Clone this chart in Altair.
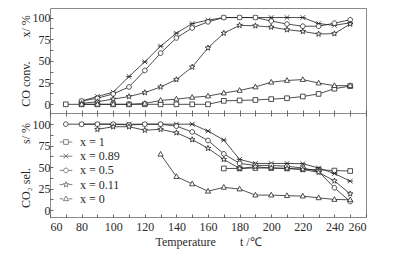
import math
import altair as alt
import pandas as pd

# ---------------- data ----------------
series = ["x = 1", "x = 0.89", "x = 0.5", "x = 0.11", "x = 0"]

# CO conversion, %
conv_T_x1 = [70, 80, 90, 100, 110, 120, 130, 140, 150, 160, 170, 180, 190, 200, 210, 220, 230, 240, 250]
conv_x1 = [0, 0, 0, 0, 0, 0, 0, 0, 0, 0, 4, 4.5, 5, 6, 7, 9, 12, 18, 21]
conv_T_x089 = [80, 90, 100, 110, 120, 130, 140, 150, 160, 170, 180, 190, 200, 210, 220, 230, 240, 250]
conv_x089 = [3.8, 9, 14, 32, 49, 67, 82, 93, 97, 100, 100, 100, 100, 100, 100, 93, 91, 94]
conv_T_x05 = [80, 90, 100, 110, 120, 130, 140, 150, 160, 170, 180, 190, 200, 210, 220, 230, 240, 250]
conv_x05 = [3.8, 7, 12, 20, 39, 59, 76.5, 88, 95, 100, 100, 100, 96, 92.5, 90, 90, 93.5, 97.5]
conv_T_x011 = [80, 90, 100, 110, 120, 130, 140, 150, 160, 170, 180, 190, 200, 210, 220, 230, 240, 250]
conv_x011 = [1, 3, 6, 9, 13.5, 20, 28.5, 43, 65, 82, 91, 90.5, 89, 86, 84, 81, 81.5, 92.5]
conv_T_x0 = [80, 90, 100, 110, 120, 130, 140, 150, 160, 170, 180, 190, 200, 210, 220, 230, 240, 250]
conv_x0 = [0, 0, 0, 0, 1, 4.5, 6, 8, 9.5, 13, 16, 20, 25.5, 27.5, 28.5, 24.5, 21.5, 21.5]

# CO2 selectivity, %
sel_T_x1 = [170, 180, 190, 200, 210, 220, 230, 240, 250]
sel_x1 = [48.5, 48.5, 49, 49, 48.5, 47.5, 47, 46, 45.5]
sel_T_x089 = [80, 90, 100, 110, 120, 130, 140, 150, 160, 170, 180, 190, 200, 210, 220, 230, 240, 250]
sel_x089 = [100, 100, 100, 100, 100, 100, 100, 100, 92, 81.5, 59, 54.3, 54.3, 54.3, 54, 49, 42.6, 33.7]
sel_T_x05 = [70, 80, 90, 100, 110, 120, 130, 140, 150, 160, 170, 180, 190, 200, 210, 220, 230, 240, 250]
sel_x05 = [100, 100, 100, 100, 99, 100, 100, 97.7, 91, 81, 65.5, 54.3, 52, 52, 51, 49, 45, 26, 10]
sel_T_x011 = [90, 100, 110, 120, 130, 140, 150, 160, 170, 180, 190, 200, 210, 220, 230, 240, 250]
sel_x011 = [94, 97, 97, 93, 94, 90, 82, 72, 59, 48.5, 50.4, 49, 48.5, 47.3, 44, 34, 19]
sel_T_x0 = [130, 140, 150, 160, 170, 180, 190, 200, 210, 220, 230, 240, 250]
sel_x0 = [65, 39, 30.5, 22, 26.5, 24.5, 17.5, 17.5, 16.8, 16.3, 14.3, 12.4, 12]

x_ticks = list(range(60, 261, 10))
y_ticks = [0, 12.5, 25, 37.5, 50, 62.5, 75, 87.5, 100]


def long(pairs):
    rows = []
    for name, ts, vs in pairs:
        for t, v in zip(ts, vs):
            rows.append({"T": t, "v": v, "s": name})
    return pd.DataFrame(rows)


conv_df = long([
    ("x = 1", conv_T_x1, conv_x1),
    ("x = 0.89", conv_T_x089, conv_x089),
    ("x = 0.5", conv_T_x05, conv_x05),
    ("x = 0.11", conv_T_x011, conv_x011),
    ("x = 0", conv_T_x0, conv_x0),
])
sel_df = long([
    ("x = 1", sel_T_x1, sel_x1),
    ("x = 0.89", sel_T_x089, sel_x089),
    ("x = 0.5", sel_T_x05, sel_x05),
    ("x = 0.11", sel_T_x011, sel_x011),
    ("x = 0", sel_T_x0, sel_x0),
])

# ---------------- styling ----------------
FONT = "Liberation Serif"
INK = "#222"
TXT = "#2a2a2a"
FRAME = "#8a8a8a"


def star_path(ro=1.25, ri=0.5):
    pts = []
    for i in range(10):
        a = math.radians(-90 + 36 * i)
        r = ro if i % 2 == 0 else ri
        pts.append(f"{r*math.cos(a):.3f},{r*math.sin(a):.3f}")
    return "M" + "L".join(pts) + "Z"


SQUARE = "M-1,-1H1V1H-1Z"
ASTER = "M-1,-1L1,1M-1,1L1,-1M-1.2,0H1.2"
CIRCLE = "M-1,0A1,1 0 1,0 1,0A1,1 0 1,0 -1,0Z"
STAR = star_path()
TRI = "M0,-1.2L1.1,0.8L-1.1,0.8Z"
shape_range = [SQUARE, ASTER, CIRCLE, STAR, TRI]

STUB = "M-2.7,0H-1.15M1.15,0H2.7"
legend_paths = [p + STUB for p in shape_range]

W = 316
H_TOP = 105
H_BOT = 104

xscale = alt.Scale(domain=[60, 260], nice=False, zero=False)
lab20 = "datum.value % 20 === 0 ? datum.label : ''"
lab25 = "datum.value % 25 === 0 ? datum.label : ''"

common_axis = dict(domain=False, tickColor="#444", tickWidth=0.8, tickSize=3, offset=-3,
                   labelFont=FONT, labelFontSize=12, labelColor=TXT,
                   titleFont=FONT, titleFontSize=12, titleFontWeight="normal", titleColor=TXT,
                   grid=False)
view = alt.ViewBackground(stroke=FRAME, strokeWidth=1, fill="white")


def panel(df, ydomain, height, ytitle, bottom_labels, top_ticks, with_legend):
    yscale = alt.Scale(domain=ydomain, nice=False, zero=False)
    yaxis = alt.Axis(orient="left", values=y_ticks, labelExpr=lab25, labelPadding=0,
                     title=ytitle, titlePadding=0, **common_axis)
    if bottom_labels:
        xaxis = alt.Axis(orient="bottom", values=x_ticks, labelExpr=lab20, labelPadding=4,
                         title="Temperature\u2003\u2003t /\u2103", titlePadding=4, **common_axis)
    else:
        xaxis = alt.Axis(orient="bottom", values=x_ticks, labels=False, title=None, **common_axis)

    lines = alt.Chart(df).mark_line(color=INK, strokeWidth=0.8).encode(
        x=alt.X("T:Q", scale=xscale, axis=xaxis),
        y=alt.Y("v:Q", scale=yscale, axis=yaxis),
        detail="s:N",
    )
    if top_ticks:
        px = alt.X("T:Q", scale=xscale,
                   axis=alt.Axis(orient="top", values=x_ticks, labels=False, title=None, **common_axis))
    else:
        px = alt.X("T:Q", scale=xscale, axis=None)
    points = alt.Chart(df).mark_point(
        filled=True, fill="white", stroke=INK, strokeWidth=0.8, size=22, opacity=1
    ).encode(
        x=px,
        y=alt.Y("v:Q", scale=yscale, axis=yaxis),
        shape=alt.Shape("s:N", scale=alt.Scale(domain=series, range=shape_range), legend=None),
    )
    layers = [lines, points]
    if with_legend:
        legend = alt.Legend(
            orient="none", legendX=10, legendY=23, title=None, padding=0,
            symbolSize=22, symbolStrokeWidth=0.8, symbolStrokeColor=INK,
            labelFont=FONT, labelFontSize=12, labelColor=TXT, labelOffset=8,
            rowPadding=2.2,
        )
        leg = alt.Chart(df).mark_point(
            filled=False, color=INK, strokeWidth=0.8, size=0
        ).encode(
            x=alt.X("T:Q", scale=xscale, axis=None),
            y=alt.Y("v:Q", scale=yscale, axis=yaxis),
            shape=alt.Shape("s:N", scale=alt.Scale(domain=series, range=legend_paths), legend=legend),
        )
        layers.append(leg)
    return alt.layer(*layers).resolve_axis(x="independent").resolve_scale(
        shape="independent").properties(width=W, height=height, view=view)


top = panel(conv_df, [-10, 111], H_TOP, "CO conv.\u2003\u2003x/ %", False, False, False)
bot = panel(sel_df, [-8, 113], H_BOT, "CO\u2082 sel.\u2003\u2003s/ %", True, True, True)

chart = alt.vconcat(top, bot, spacing=0, bounds="flush").resolve_scale(
    shape="independent"
).resolve_legend(shape="independent").properties(
    padding={"left": 18, "top": 7, "right": 5, "bottom": 5}
).configure_view(stroke=FRAME, strokeWidth=1).configure_axis(
    titleFontWeight="normal"
).configure(background="white")

chart.save("out.html", embed_options={"renderer": "svg", "actions": False})
